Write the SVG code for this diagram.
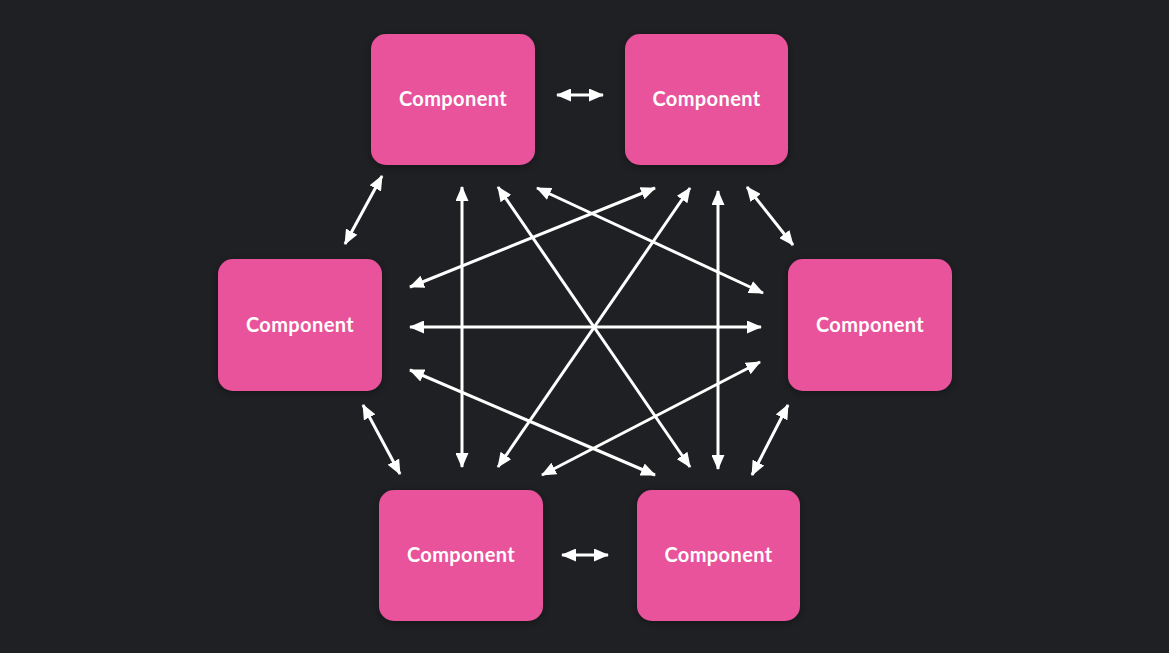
<svg xmlns="http://www.w3.org/2000/svg" width="1169" height="653" viewBox="0 0 1169 653">
<defs>
<style>
.node rect{fill:#e8529b;}
.node text{fill:#ffffff;font-family:Lato,"Open Sans","Liberation Sans",sans-serif;font-weight:700;font-size:20px;letter-spacing:0.4px;text-anchor:middle;}
.conn line{stroke:#ffffff;stroke-width:3;marker-start:url(#ah);marker-end:url(#ah);}
</style>
<marker id="ah" viewBox="0 0 15 13" refX="14" refY="6.5" markerWidth="15" markerHeight="13" markerUnits="userSpaceOnUse" orient="auto-start-reverse">
<path d="M0,0 L15,6.5 L0,13 z" fill="#ffffff"/>
</marker>
<filter id="sh" x="-20%" y="-20%" width="140%" height="140%">
<feDropShadow dx="0" dy="2" stdDeviation="4" flood-color="#000000" flood-opacity="0.35"/>
</filter>
</defs>
<rect x="0" y="0" width="1169" height="653" fill="#1f2023"/>
<g id="node-top-left" class="node"><rect x="371" y="34" width="164" height="131" rx="15" filter="url(#sh)"/><text x="453" y="106">Component</text></g>
<g id="node-top-right" class="node"><rect x="625" y="34" width="163" height="131" rx="15" filter="url(#sh)"/><text x="706.5" y="106">Component</text></g>
<g id="node-left" class="node"><rect x="218" y="259" width="164" height="132" rx="15" filter="url(#sh)"/><text x="300" y="332">Component</text></g>
<g id="node-right" class="node"><rect x="788" y="259" width="164" height="132" rx="15" filter="url(#sh)"/><text x="870" y="332">Component</text></g>
<g id="node-bottom-left" class="node"><rect x="379" y="490" width="164" height="131" rx="15" filter="url(#sh)"/><text x="461" y="562">Component</text></g>
<g id="node-bottom-right" class="node"><rect x="637" y="490" width="163" height="131" rx="15" filter="url(#sh)"/><text x="718.5" y="562">Component</text></g>
<g id="connectors" class="conn">
<line x1="557" y1="95" x2="603" y2="95"/>
<line x1="562" y1="555" x2="608" y2="555"/>
<line x1="345" y1="244" x2="382" y2="176"/>
<line x1="363" y1="405" x2="400" y2="474"/>
<line x1="747" y1="187" x2="793" y2="245"/>
<line x1="788" y1="405" x2="752" y2="475"/>
<line x1="462" y1="187" x2="462" y2="467"/>
<line x1="718" y1="191" x2="718" y2="469"/>
<line x1="410" y1="327" x2="761" y2="327"/>
<line x1="498" y1="187" x2="690" y2="467"/>
<line x1="690" y1="188" x2="498" y2="467"/>
<line x1="537" y1="188" x2="763" y2="293"/>
<line x1="655" y1="188" x2="410" y2="287"/>
<line x1="410" y1="370" x2="655" y2="475"/>
<line x1="542" y1="475" x2="760" y2="362"/>
</g>
</svg>
